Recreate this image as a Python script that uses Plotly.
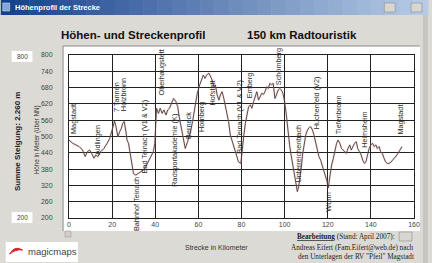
import plotly.graph_objects as go

# ---------------- data ----------------
km = [0.0, 1.7, 3.2, 4.7, 6.3, 7.5, 8.5, 9.6, 10.5, 11.6, 12.4, 13.4, 14.7, 16.2, 17.7, 18.9,
      20.0, 21.1, 21.8, 22.7, 23.5, 24.3, 24.9, 25.6, 26.4, 26.9, 27.6, 28.4, 29.2, 29.9, 31.0,
      32.2, 33.4, 34.5, 35.6, 36.8, 38.0, 39.1, 39.8, 40.3, 40.6, 40.9, 41.5, 42.3, 43.2, 44.0,
      45.0, 45.8, 46.6, 47.3, 48.5, 49.6, 50.4, 51.1, 52.2, 53.1, 53.9, 55.0, 56.2, 57.3, 58.3,
      59.5, 60.6, 61.5, 62.3, 63.1, 63.8, 64.9, 65.6, 66.4, 67.2, 67.9, 68.7, 69.5, 70.2, 71.0,
      71.8, 73.0, 74.0, 74.8, 76.3, 77.6, 78.6, 79.7, 80.3, 81.1, 81.8, 82.6, 83.3, 84.1, 84.8,
      85.6, 86.4, 87.1, 87.9, 88.6, 89.4, 90.2, 90.9, 91.7, 92.4, 93.2, 93.9, 94.7, 95.5, 96.2,
      97.0, 97.7, 98.5, 99.2, 100.0, 100.8, 101.5, 102.3, 103.0, 103.8, 104.5, 105.3, 105.9,
      106.5, 107.1, 107.7, 108.3, 109.1, 109.8, 110.6, 111.4, 112.1, 112.9, 113.6, 114.4, 115.2,
      115.9, 116.7, 117.4, 118.2, 118.9, 119.7, 120.2, 121.1, 121.8, 122.6, 123.3, 124.1, 124.8,
      125.6, 126.4, 127.1, 127.9, 128.6, 129.4, 130.2, 130.9, 131.7, 132.4, 133.2, 133.9, 134.7,
      135.5, 136.2, 137.0, 137.7, 138.5, 139.2, 140.0, 140.8, 141.5, 142.3, 143.0, 143.8, 144.5,
      145.3, 146.1, 146.8, 147.6, 148.3, 149.1, 149.8, 150.6, 151.4, 152.1, 152.9, 153.6, 154.4]
elev = [487, 475, 469, 463, 450, 426, 444, 450, 438, 420, 432, 426, 444, 456, 475, 493,
        524, 557, 536, 499, 518, 530, 548, 555, 518, 487, 475, 438, 395, 364, 358,
        364, 370, 377, 389, 407, 426, 444, 475, 555, 604, 598, 585, 604, 585, 598,
        579, 598, 604, 616, 640, 628, 610, 573, 524, 481, 456, 481, 512, 555, 598,
        659, 690, 714, 726, 714, 726, 733, 720, 708, 683, 690, 653, 634, 653, 665,
        640, 598, 555, 506, 469, 432, 407, 401, 456, 506, 548, 585, 610, 616, 604,
        628, 653, 665, 634, 647, 659, 655, 665, 683, 677, 696, 690, 696, 640, 653,
        671, 677, 671, 659, 628, 579, 518, 469, 432, 395, 352, 315, 297,
        315, 346, 383, 432, 469, 506, 524, 533, 536, 524, 506, 481, 450,
        426, 413, 395, 377, 358, 334, 310, 364, 395, 420, 450, 475, 487,
        475, 456, 450, 444, 438, 456, 469, 450, 463, 475, 481, 456, 444,
        432, 413, 401, 407, 432, 456, 469, 475, 463, 469, 456, 463, 444,
        438, 420, 407, 401, 401, 404, 410, 417, 426, 432, 442, 450, 463]

place_names = ["Magstadt", "Aidlingen", "7 Tannen", "Holzbronn", "Bahnhof Teinach",
               "Bad Teinach (V1 & V2)", "Oberhaugstett", "Radsportakademie (K)", "Berneck",
               "Hornberg", "Hofstett", "Bad Teinach (V1 & V2)", "Emberg", "Schömberg",
               "Unterreichenbach", "Huchenfeld (V2)", "Würm", "Tiefenbronn", "Heimsheim",
               "Magstadt"]
place_km = [1.8, 13.0, 21.8, 25.6, 31.3, 34.8, 42.9, 48.5, 55.1, 61.5, 66.8, 79.0, 84.1,
            97.3, 106.6, 114.9, 120.2, 124.8, 137.0, 153.8]
place_label_y = [564, 487, 645, 653, 253, 500, 734, 450, 542, 570, 658, 574, 690, 758,
                 437, 625, 257, 579, 526, 561]

x_ticks = [0, 20, 40, 60, 80, 100, 120, 140, 160]
y_ticks = [200, 260, 320, 380, 440, 500, 560, 620, 680, 740, 800]

# ---------------- geometry helpers ----------------
W_FIG, H_FIG = 432, 263
L, R, T, B = 69, 418, 55, 218
PW, PH = R - L, B - T

def px(x):
    return (x - L) / PW

def py(y):
    return (B - y) / PH

shapes = []

def rect(x0, y0, x1, y1, fill, line=None, lw=0, layer="below"):
    shapes.append(dict(type="rect", xref="paper", yref="paper",
                       x0=px(x0), x1=px(x1), y0=py(y1), y1=py(y0),
                       fillcolor=fill, line=dict(color=line or fill, width=lw), layer=layer))

def hline(x0, x1, y, color, w=1):
    shapes.append(dict(type="line", xref="paper", yref="paper", x0=px(x0), x1=px(x1),
                       y0=py(y), y1=py(y), line=dict(color=color, width=w), layer="below"))

def vline(x, y0, y1, color, w=1):
    shapes.append(dict(type="line", xref="paper", yref="paper", x0=px(x), x1=px(x),
                       y0=py(y0), y1=py(y1), line=dict(color=color, width=w), layer="below"))

# title bar gradient
c0 = (22, 66, 140)
c1 = (182, 202, 230)
n = 30
for i in range(n):
    t = i / (n - 1)
    c = tuple(int(c0[k] + (c1[k] - c0[k]) * t) for k in range(3))
    rect(432 * i / n, 0, 432 * (i + 1) / n + 0.5, 15, "rgb(%d,%d,%d)" % c)
# title bar buttons
rect(388, 3, 399, 12, "#d8d6d0", "#8a8a8a", 0.6)
rect(415, 3, 426, 12, "#d8d6d0", "#8a8a8a", 0.6)
rect(2, 3, 9, 11, "#7fa8d8", "#e0e8f0", 0.5)

# window right border
rect(427, 15, 432, 263, "#c8c6c0")

# white plot box with sunken border
rect(63, 46, 424, 231, "white")
hline(63, 424, 46, "#8c8c8c", 1)
vline(63, 46, 231, "#8c8c8c", 1)
# small scroll button
rect(65, 231, 71, 237, "#d0cec8", "#9a9a9a", 0.6)

# left boxes
rect(11, 51, 32, 62, "white")
rect(11, 212, 32, 223, "white")

# logo box
rect(5, 242, 78, 262, "white")
shapes.append(dict(type="path", xref="paper", yref="paper",
                   path="M %f,%f Q %f,%f %f,%f Q %f,%f %f,%f Z" % (
                       px(9), py(254), px(14), py(245), px(22), py(250),
                       px(15), py(249), px(9), py(254)),
                   fillcolor="#d8232a", line=dict(color="#d8232a", width=1), layer="below"))

# bearbeitung button
rect(403, 232, 416, 241, "#d8d6d0", "#8a8a8a", 0.6)

# ---------------- figure ----------------
fig = go.Figure()
fig.add_trace(go.Scatter(x=km, y=elev, mode="lines",
                         line=dict(color="rgba(220,140,140,0.25)", width=2.2),
                         hoverinfo="skip", showlegend=False))
fig.add_trace(go.Scatter(x=km, y=elev, mode="lines",
                         line=dict(color="#4a3c3c", width=0.9),
                         showlegend=False))

annotations = []
for name, xk, yk in zip(place_names, place_km, place_label_y):
    annotations.append(dict(x=xk, y=yk, xref="x", yref="y", text=name, showarrow=False,
                            textangle=-90, xanchor="center", yanchor="middle",
                            font=dict(family="Liberation Sans, Arial", size=7.3, color="#2a2a2a")))

def ptext(x, y, text, size, color="#222", family="Liberation Sans, Arial",
          xanchor="left", yanchor="middle", angle=0):
    annotations.append(dict(x=px(x), y=py(y), xref="paper", yref="paper", text=text,
                            showarrow=False, xanchor=xanchor, yanchor=yanchor, textangle=angle,
                            font=dict(family=family, size=size, color=color)))

ptext(12, 7.5, "<b>Höhenprofil der Strecke</b>", 7.5, color="white")
ptext(59, 35, "<b>Höhen- und Streckenprofil</b>", 11.5, color="#111")
ptext(247, 35, "<b>150 km Radtouristik</b>", 11.5, color="#111")
ptext(21.5, 56.5, "800", 6.5, color="#444", xanchor="center")
ptext(21.5, 217.5, "200", 6.5, color="#444", xanchor="center")
ptext(17, 141.5, "<b>Summe Steigung: 2.260 m</b>", 8, color="#222", xanchor="center", angle=-90)
ptext(37, 140, "Höhe in Meter (über NN)", 6.3, color="#333", xanchor="center", angle=-90)
ptext(218, 247, "Strecke in Kilometer", 7, color="#333", xanchor="center")
ptext(52, 251.5, "magicmaps", 9.5, color="#444", xanchor="center")
ptext(401, 237, "<span style='text-decoration:underline'><b>Bearbeitung</b></span> (Stand: April 2007):",
      7.2, color="#222", family="Liberation Serif, Times New Roman", xanchor="right")
ptext(420, 247.5, "Andreas Eifert (Fam.Eifert@web.de) nach", 7.2, color="#222",
      family="Liberation Serif, Times New Roman", xanchor="right")
ptext(420, 257, "den Unterlagen der RV \"Pfeil\" Magstadt", 7.2, color="#222",
      family="Liberation Serif, Times New Roman", xanchor="right")

fig.update_layout(
    width=W_FIG, height=H_FIG,
    margin=dict(l=L, r=W_FIG - R, t=T, b=H_FIG - B, pad=0),
    paper_bgcolor="#dcdad5", plot_bgcolor="white",
    shapes=shapes, annotations=annotations,
    showlegend=False,
    xaxis=dict(range=[0, 160], tickvals=x_ticks, ticktext=[str(v) for v in x_ticks],
               showgrid=True, gridcolor="#222", gridwidth=1, zeroline=False,
               showline=True, linecolor="#222", linewidth=1, mirror=True,
               ticks="", tickfont=dict(family="Liberation Sans, Arial", size=7, color="#444"),
               fixedrange=True),
    yaxis=dict(range=[200, 800], tickvals=y_ticks, ticktext=[str(v) for v in y_ticks],
               showgrid=True, gridcolor="#222", gridwidth=1, zeroline=False,
               showline=True, linecolor="#222", linewidth=1, mirror=True,
               ticks="", ticklabelstandoff=14,
               tickfont=dict(family="Liberation Sans, Arial", size=7, color="#444"),
               fixedrange=True),
)

fig.write_html("out.html", config={"displayModeBar": False})
